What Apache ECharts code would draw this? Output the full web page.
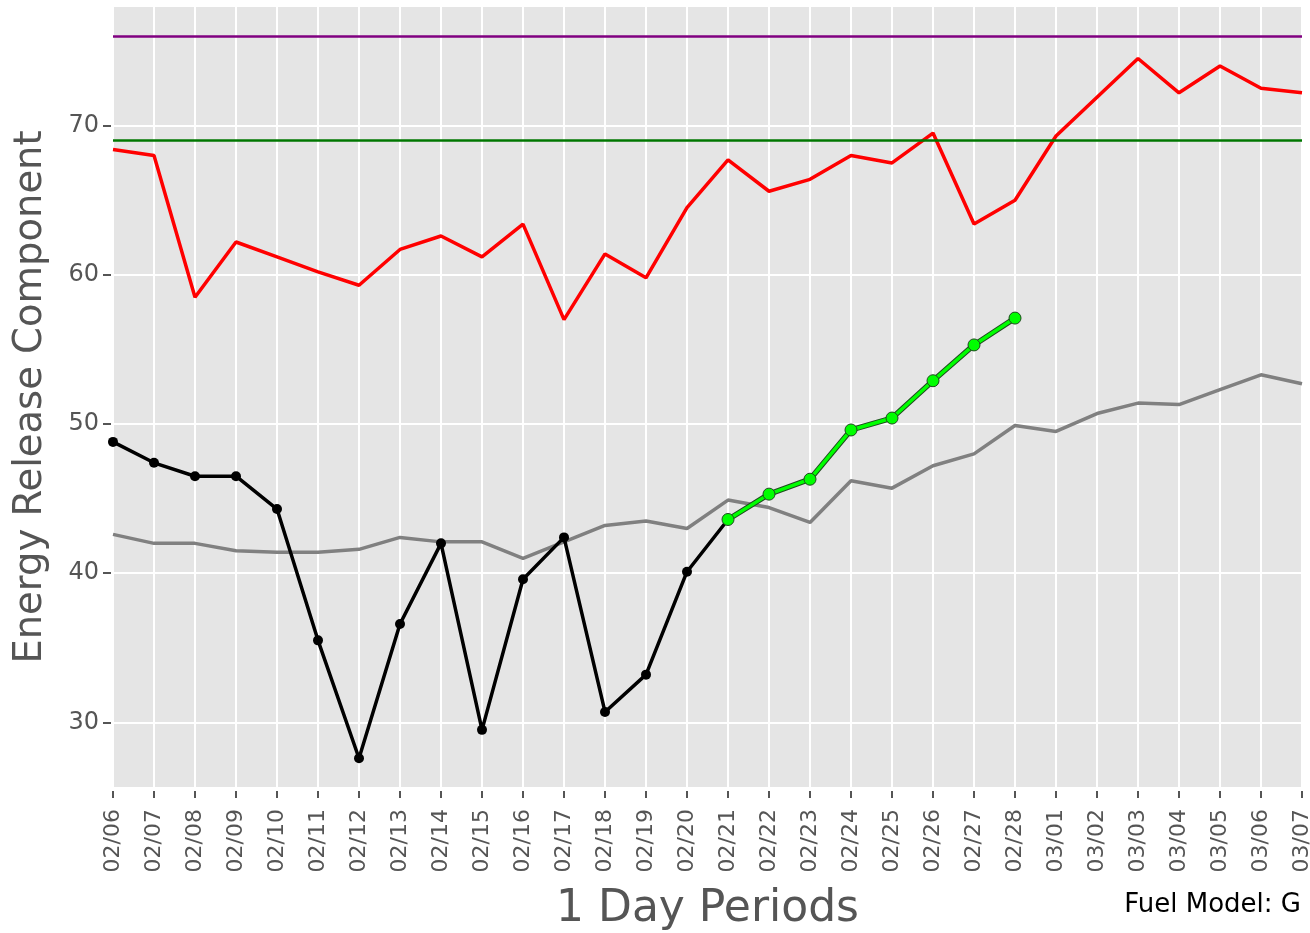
<!DOCTYPE html>
<html>
<head>
<meta charset="utf-8">
<title>Energy Release Component</title>
<script src="https://cdn.jsdelivr.net/npm/echarts@6/dist/echarts.min.js"></script>
<style>
    html, body { margin: 0; padding: 0; background: #fff; }
    #chart { width: 1310px; height: 933px; }
</style>
</head>
<body>
<div id="chart"></div>
<script>
// ---- data ----
const dates = ['02/06', '02/07', '02/08', '02/09', '02/10', '02/11', '02/12', '02/13', '02/14', '02/15',
    '02/16', '02/17', '02/18', '02/19', '02/20', '02/21', '02/22', '02/23', '02/24', '02/25',
    '02/26', '02/27', '02/28', '03/01', '03/02', '03/03', '03/04', '03/05', '03/06', '03/07'];

// historical max (red)
const ercMax = [68.4, 68.0, 58.5, 62.2, 61.2, 60.2, 59.3, 61.7, 62.6, 61.2,
    63.4, 57.0, 61.4, 59.8, 64.5, 67.7, 65.6, 66.4, 68.0, 67.5,
    69.5, 63.4, 65.0, 69.3, 71.9, 74.5, 72.2, 74.0, 72.5, 72.2];

// historical average (gray)
const ercAvg = [42.6, 42.0, 42.0, 41.5, 41.4, 41.4, 41.6, 42.4, 42.1, 42.1,
    41.0, 42.1, 43.2, 43.5, 43.0, 44.9, 44.4, 43.4, 46.2, 45.7,
    47.2, 48.0, 49.9, 49.5, 50.7, 51.4, 51.3, 52.3, 53.3, 52.7];

// observed (black)
const ercObserved = [48.8, 47.4, 46.5, 46.5, 44.3, 35.5, 27.6, 36.6, 42.0, 29.5,
    39.6, 42.4, 30.7, 33.2, 40.1, 43.6];

// forecast (green), starts at 02/21
const ercForecast = [null, null, null, null, null, null, null, null, null, null,
    null, null, null, null, null, 43.6, 45.3, 46.3, 49.6, 50.4,
    52.9, 55.3, 57.1];

const yTicks = [30, 40, 50, 60, 70];
const threshold97 = 76;
const threshold90 = 69;

const chart = echarts.init(document.getElementById('chart'));
const font = 'DejaVu Sans';

const option = {
    animation: false,
    backgroundColor: '#ffffff',
    textStyle: { fontFamily: font },
    grid: {
        left: 113,
        right: 8,
        top: 7,
        bottom: 146,
        outerBoundsMode: 'none',
        show: true,
        backgroundColor: '#E5E5E5',
        borderWidth: 0
    },
    graphic: [
        {
            type: 'text',
            right: 9,
            top: 892,
            style: {
                text: 'Fuel Model: G',
                fill: '#000',
                font: '26px "DejaVu Sans"'
            }
        }
    ],
    xAxis: {
        type: 'category',
        data: dates,
        boundaryGap: false,
        offset: 4,
        name: '1 Day Periods',
        nameLocation: 'middle',
        nameGap: 97,
        nameTextStyle: { fontSize: 44, color: '#555', fontFamily: font },
        axisLine: { show: false },
        axisTick: { show: true, length: 7, alignWithLabel: true, interval: 0, lineStyle: { color: '#555', width: 2 } },
        axisLabel: { interval: 0, rotate: 90, margin: 18, fontSize: 22, color: '#555', fontFamily: font },
        splitLine: { show: true, interval: 0, lineStyle: { color: '#fff', width: 2 } }
    },
    yAxis: {
        type: 'value',
        min: 25.67,
        max: 77.95,
        offset: 2,
        name: 'Energy Release Component',
        nameLocation: 'middle',
        nameRotate: 90,
        nameGap: 61,
        nameTextStyle: { fontSize: 38.5, color: '#555', fontFamily: font },
        axisLine: { show: false },
        axisTick: { show: true, length: 8, customValues: yTicks, lineStyle: { color: '#555', width: 2 } },
        axisLabel: { margin: 12, fontSize: 24, color: '#555', fontFamily: font, customValues: yTicks },
        splitLine: { show: true, lineStyle: { color: '#fff', width: 2 } }
    },
    series: [
        {
            name: 'Average',
            type: 'line',
            data: ercAvg,
            symbol: 'none',
            lineStyle: { color: '#808080', width: 3.5 },
            z: 2
        },
        {
            name: 'Max',
            type: 'line',
            data: ercMax,
            symbol: 'none',
            lineStyle: { color: '#ff0000', width: 3.5 },
            z: 3,
            markLine: {
                silent: true,
                symbol: 'none',
                label: { show: false },
                animation: false,
                data: [
                    { yAxis: threshold97, lineStyle: { color: '#800080', width: 2.5, type: 'solid' } },
                    { yAxis: threshold90, lineStyle: { color: '#007700', width: 2.5, type: 'solid' } }
                ]
            }
        },
        {
            name: 'Observed',
            type: 'line',
            data: ercObserved,
            symbol: 'circle',
            symbolSize: 10,
            itemStyle: { color: '#000' },
            lineStyle: { color: '#000', width: 3.5 },
            z: 4
        },
        {
            name: 'Forecast outline',
            type: 'line',
            data: ercForecast,
            symbol: 'none',
            lineStyle: { color: '#1e4a1e', width: 5.5 },
            z: 5
        },
        {
            name: 'Forecast',
            type: 'line',
            data: ercForecast,
            symbol: 'circle',
            symbolSize: 12,
            itemStyle: { color: '#00ff00', borderColor: '#1e4a1e', borderWidth: 1 },
            lineStyle: { color: '#00ff00', width: 3.5 },
            z: 6
        }
    ]
};

chart.setOption(option);
</script>
</body>
</html>
